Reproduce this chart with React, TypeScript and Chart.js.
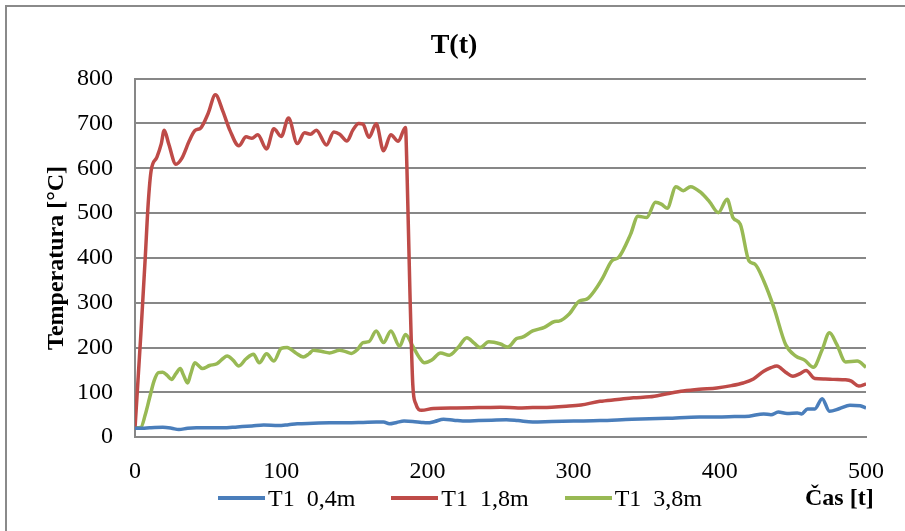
import React, { useEffect, useRef } from "react";
import { Chart, registerables } from "chart.js";

Chart.register(...registerables);

const chartTitle = "T(t)";
const yAxisTitle = "Temperatura [°C]";
const xAxisTitle = "Čas [t]";
const seriesNames = ["T1  0,4m", "T1  1,8m", "T1  3,8m"];
const seriesColors = ["#4A7EBB", "#BE4B48", "#98B954"];
const xTickValues = [0, 100, 200, 300, 400, 500];
const yTickValues = [0, 100, 200, 300, 400, 500, 600, 700, 800];

// [time, temperature]
const seriesT1_04: [number, number][] = [
  [0, 20], [5, 20], [10, 21], [19, 22], [25, 20], [30, 17], [36, 20], [42, 21],
  [50, 21], [60, 21], [70, 23], [80, 25], [88, 27], [98, 26], [105, 28], [111, 30],
  [122, 31], [133, 32], [145, 32], [156, 33], [165, 34], [170, 34], [174, 30], [179, 33],
  [184, 36], [190, 35], [196, 33], [200, 32], [205, 35], [211, 40], [218, 38], [227, 36],
  [235, 37], [244, 38], [254, 39], [262, 37], [272, 34], [285, 35], [300, 36], [318, 37],
  [340, 40], [364, 42], [386, 45], [398, 45], [410, 46], [420, 47], [430, 52], [435, 50],
  [440, 56], [446, 53], [453, 54], [456, 52], [460, 63], [465, 63], [470, 86], [475, 58],
  [482, 64], [489, 71], [496, 70], [500, 65],
];

const seriesT1_18: [number, number][] = [
  [0, 20], [4, 230], [7, 400], [9, 520], [11, 594], [15, 625], [18, 655], [20, 685],
  [23, 655], [28, 609], [32, 622], [37, 660], [41, 684], [45, 690], [50, 722], [55, 764],
  [60, 728], [65, 684], [71, 650], [76, 670], [80, 667], [84, 675], [90, 643], [95, 688],
  [100, 671], [105, 712], [111, 655], [116, 679], [120, 676], [124, 685], [131, 652], [136, 681],
  [140, 676], [145, 661], [149, 685], [153, 700], [156, 698], [160, 669], [165, 699], [170, 639],
  [175, 675], [180, 660], [185, 691], [186, 600], [188, 330], [190, 118], [192, 75], [196, 60],
  [204, 64], [220, 65], [235, 66], [250, 67], [262, 65], [272, 66], [285, 67], [295, 69],
  [305, 72], [318, 80], [330, 84], [341, 88], [352, 90], [364, 97], [375, 103], [386, 107],
  [398, 110], [408, 115], [416, 121], [423, 130], [430, 147], [435, 155], [439, 159], [445, 145],
  [450, 136], [455, 142], [459, 149], [465, 131], [472, 130], [478, 129], [486, 128], [490, 125],
  [495, 114], [500, 119],
];

const seriesT1_38: [number, number][] = [
  [0, 21], [4, 22], [7, 50], [10, 88], [13, 125], [16, 144], [19, 145], [22, 138],
  [25, 129], [28, 142], [31, 153], [33, 140], [36, 121], [38, 140], [41, 166], [44, 158],
  [46, 153], [51, 160], [56, 164], [60, 175], [63, 181], [67, 172], [71, 159], [76, 175],
  [81, 185], [85, 166], [90, 186], [95, 170], [100, 198], [104, 200], [110, 188], [115, 179],
  [119, 186], [122, 194], [128, 191], [133, 188], [140, 194], [144, 191], [148, 187], [152, 195],
  [156, 211], [160, 213], [165, 237], [170, 211], [175, 237], [181, 203], [185, 229], [190, 203],
  [194, 180], [198, 166], [203, 172], [209, 188], [215, 183], [221, 200], [227, 222], [232, 210],
  [236, 200], [242, 213], [250, 208], [255, 201], [261, 220], [265, 223], [272, 237], [280, 245],
  [287, 258], [290, 259], [297, 275], [304, 304], [309, 308], [315, 330], [320, 356], [326, 393],
  [331, 402], [339, 453], [344, 493], [350, 490], [356, 524], [360, 520], [364, 511], [370, 559],
  [375, 550], [380, 559], [387, 546], [393, 525], [399, 501], [405, 531], [409, 490], [414, 475],
  [420, 393], [424, 386], [430, 349], [437, 289], [445, 207], [452, 181], [458, 172], [464, 156],
  [470, 195], [475, 233], [480, 207], [486, 168], [494, 170], [500, 156],
];

const allSeries = [seriesT1_04, seriesT1_18, seriesT1_38];

const FONT = "'Liberation Serif', 'Times New Roman', serif";
const GRID = "#878787";

export default function App() {
  const canvasRef = useRef<HTMLCanvasElement | null>(null);

  useEffect(() => {
    if (!canvasRef.current) return;
    Chart.defaults.font.family = FONT;
    Chart.defaults.color = "#000";
    const chart = new Chart(canvasRef.current, {
      type: "line",
      data: {
        datasets: allSeries.map((s, i) => ({
          label: seriesNames[i],
          data: s.map(([x, y]) => ({ x, y })),
          borderColor: seriesColors[i],
          backgroundColor: seriesColors[i],
          borderWidth: 3.5,
          pointRadius: 0,
          cubicInterpolationMode: "monotone" as const,
          fill: false,
        })),
      },
      options: {
        responsive: false,
        animation: false,
        layout: { padding: { left: 42, right: 39, top: 0, bottom: 33 } },
        plugins: {
          legend: { display: false },
          tooltip: { enabled: false },
          title: {
            display: true,
            text: chartTitle,
            color: "#000",
            font: { family: FONT, size: 28, weight: "bold" },
            padding: { top: 29, bottom: 16 },
          },
        },
        scales: {
          x: {
            type: "linear",
            min: 0,
            max: 500,
            afterBuildTicks: (scale: any) => {
              scale.ticks = xTickValues.map((v) => ({ value: v }));
            },
            ticks: { font: { family: FONT, size: 24 }, color: "#000", padding: 12, maxRotation: 0 },
            grid: { display: false },
            border: { display: true, color: GRID, width: 2 },
          },
          y: {
            type: "linear",
            min: 0,
            max: 800,
            afterBuildTicks: (scale: any) => {
              scale.ticks = yTickValues.map((v) => ({ value: v }));
            },
            afterFit: (scale: any) => {
              scale.width = 93;
            },
            ticks: { font: { family: FONT, size: 24 }, color: "#000", padding: 22 },
            grid: { color: GRID, lineWidth: 2, drawTicks: false },
            border: { display: true, color: GRID, width: 2 },
            title: {
              display: true,
              text: yAxisTitle,
              color: "#000",
              font: { family: FONT, size: 24, weight: "bold" },
              padding: 0,
            },
          },
        },
      },
    });
    return () => chart.destroy();
  }, []);

  return (
    <div
      style={{
        position: "fixed",
        left: 0,
        top: 0,
        width: 905,
        height: 531,
        background: "#fff",
        overflow: "hidden",
      }}
    >
      <div
        style={{
          position: "absolute",
          left: 5,
          top: 5,
          width: 920,
          height: 560,
          borderLeft: "2px solid #8a8a8a",
          borderTop: "2px solid #8a8a8a",
        }}
      />
      <canvas
        ref={canvasRef}
        width={905}
        height={531}
        style={{ position: "absolute", left: 0, top: 0, width: 905, height: 531 }}
      />
      <div
        style={{
          position: "absolute",
          left: 218,
          top: 484,
          height: 28,
          display: "flex",
          alignItems: "center",
          gap: 36,
          fontFamily: FONT,
          fontSize: 24,
          color: "#000",
        }}
      >
        {seriesNames.map((name, i) => (
          <div key={name} style={{ display: "flex", alignItems: "center" }}>
            <span style={{ display: "inline-block", width: 47, height: 4, background: seriesColors[i] }} />
            <span style={{ marginLeft: 3, whiteSpace: "pre", lineHeight: "28px" }}>{name}</span>
          </div>
        ))}
      </div>
      <div
        style={{
          position: "absolute",
          left: 805,
          top: 483,
          fontFamily: FONT,
          fontSize: 24,
          fontWeight: "bold",
          lineHeight: "28px",
          color: "#000",
          whiteSpace: "pre",
        }}
      >
        {xAxisTitle}
      </div>
    </div>
  );
}
